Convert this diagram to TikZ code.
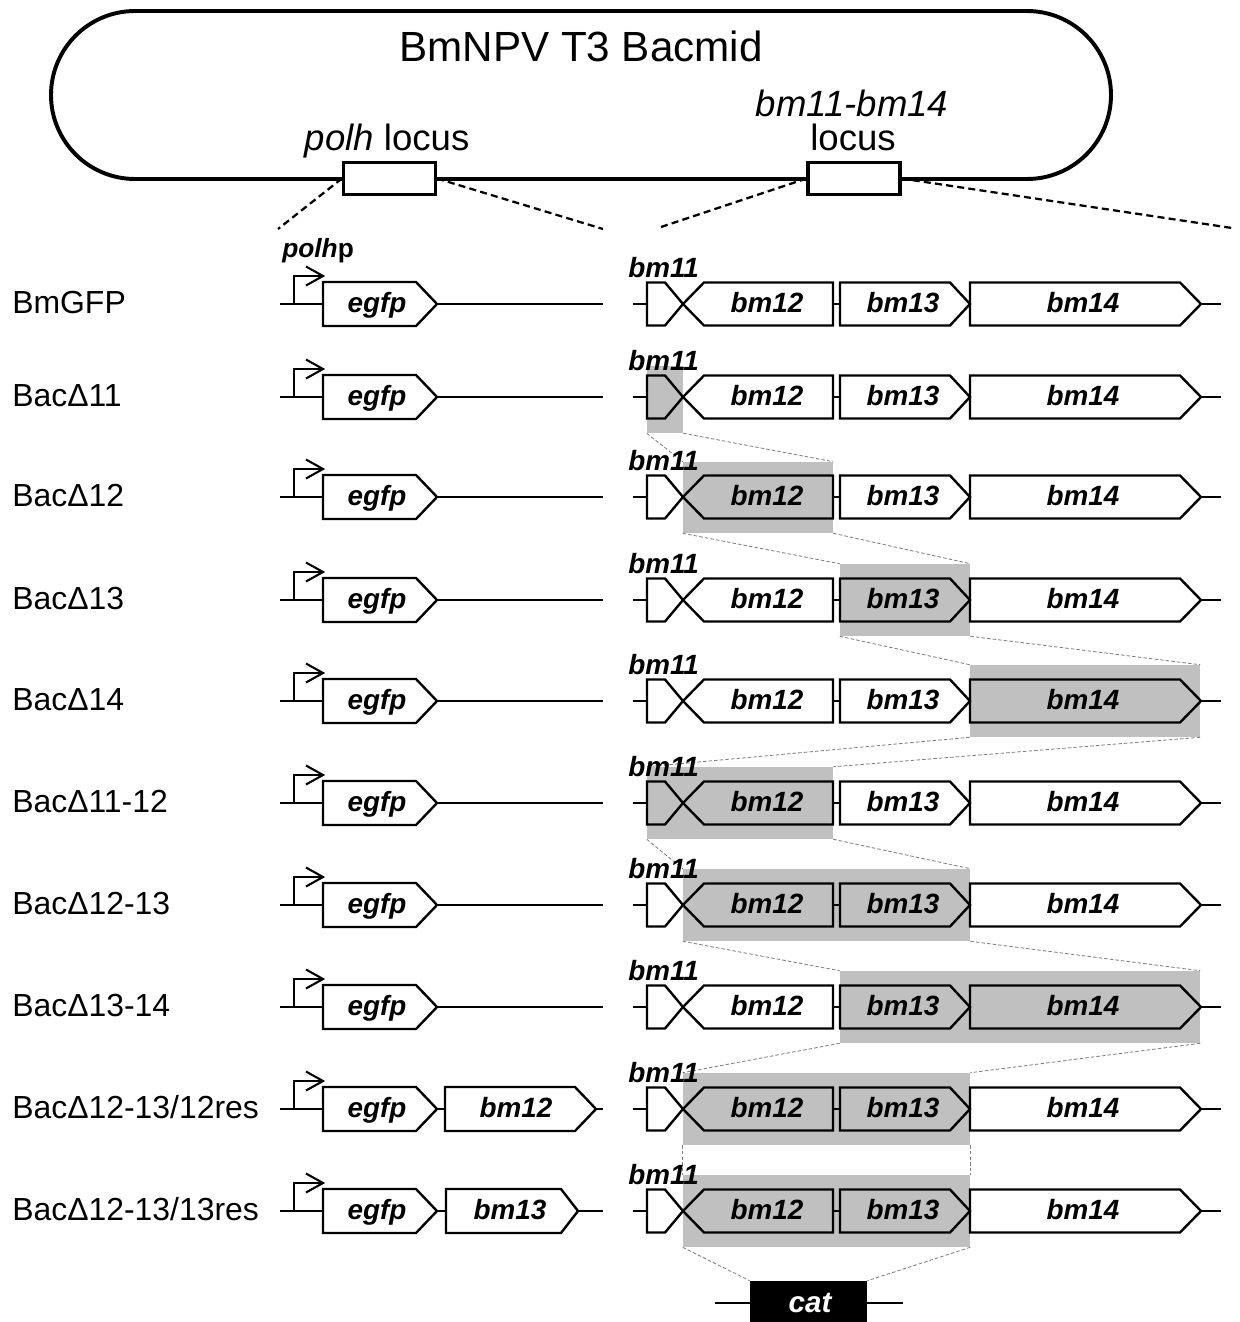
\documentclass[tikz,border=0pt]{standalone}
\usepackage{fontspec}
\setmainfont{Liberation Sans}
\usetikzlibrary{arrows.meta,fit}
\definecolor{shadegray}{RGB}{192,192,192}
\newcommand\rightgenes[2]{%
  \draw[bb] (633,#1) -- (647,#1);
  \draw[gene] (647,#1-21.5) -- (665,#1-21.5) -- (683,#1) -- (665,#1+21.5) -- (647,#1+21.5) -- cycle;
  \draw[gene] (683,#1) -- (704,#1-21.5) -- (833,#1-21.5) -- (833,#1+21.5) -- (704,#1+21.5) -- cycle;
  \draw[bb] (833,#1) -- (840,#1);
  \draw[gene] (840,#1-21.5) -- (950,#1-21.5) -- (970,#1) -- (950,#1+21.5) -- (840,#1+21.5) -- cycle;
  \draw[gene] (970,#1-21.5) -- (1180,#1-21.5) -- (1201,#1) -- (1180,#1+21.5) -- (970,#1+21.5) -- cycle;
  \draw[bb] (1201,#1) -- (1221,#1);
  \node[genelab, anchor=base west] (bmA#2) at (628,#1-27) {bm11};
  \node[genelab, anchor=base] (bmB#2) at (767,#1+8.5) {bm12};
  \node[genelab, anchor=base] (bmC#2) at (903,#1+8.5) {bm13};
  \node[genelab, anchor=base] (bmD#2) at (1083,#1+8.5) {bm14};
}
\newcommand\leftgenes[2]{%
  \draw[bb] (280,#1) -- (323,#1);
  \draw[prom] (294,#1) -- (294,#1-28) -- (323,#1-28);
  \draw[prom] (306,#1-37.5) -- (323,#1-28) -- (306,#1-18.5);
  \draw[gene] (323,#1-22) -- (416,#1-22) -- (437,#1) -- (416,#1+22) -- (323,#1+22) -- cycle;
  \node[genelab, anchor=base] (egfp#2) at (377,#1+8.5) {egfp};
}
\begin{document}
\begin{tikzpicture}[x=0.025cm,y=-0.025cm,
  gene/.style={draw=black,line width=1.7pt,line join=miter},
  bb/.style={line width=1.5pt},
  genelab/.style={font=\fontsize{19.8}{22}\selectfont\bfseries\itshape, inner sep=0pt},
  rowlab/.style={font=\fontsize{22.7}{26}\selectfont, anchor=base west, inner sep=0pt},
  loclab/.style={font=\fontsize{26}{30}\selectfont, anchor=base, inner sep=0pt},
  shadebox/.style={fill=shadegray, inner sep=0pt, draw=none},
  funnel/.style={draw=black!50, line width=0.6pt, dash pattern=on 2.5pt off 1.5pt},
  zoomline/.style={line width=1.6pt, dash pattern=on 5pt off 3pt},
  prom/.style={line width=1.5pt, line join=miter},
  locbox/.style={draw, line width=2.2pt, fill=white, inner sep=0pt, minimum width=2.3cm, minimum height=0.82cm}
]
\useasboundingbox (0,0) rectangle (1239,1322);

% bacmid
\draw[line width=2.8pt, rounded corners=2.1cm] (51,11) rectangle (1111,179);
\node[font=\fontsize{30}{34}\selectfont, anchor=base, inner sep=0pt] (title) at (581,61) {BmNPV T3 Bacmid};
\node[loclab] (polhlab) at (387,150) {\itshape polh\upshape{} locus};
\node[loclab] (bmlocA) at (852,116) {\itshape bm11-bm14};
\node[loclab] (bmlocB) at (853,150) {locus};
\node[locbox] (polhbox) at (389.5,178.5) {};
\node[locbox] (bmbox) at (854,178.5) {};
\coordinate (z1) at (278,229);
\coordinate (z2) at (603,229);
\coordinate (z3) at (658,228);
\coordinate (z4) at (1232,228);
\draw[zoomline] (polhbox.west) -- (z1);
\draw[zoomline] (polhbox.east) -- (z2);
\draw[zoomline] (bmbox.west) -- (z3);
\draw[zoomline] (bmbox.east) -- (z4);

% shaded deletions
\node[shadebox, fit={(647,366) (683,433)}] (s2) {};
\node[shadebox, fit={(683,462) (833,533)}] (s3) {};
\node[shadebox, fit={(840,564) (970,636)}] (s4) {};
\node[shadebox, fit={(970,665) (1200,737)}] (s5) {};
\node[shadebox, fit={(647,767) (833,839)}] (s6) {};
\node[shadebox, fit={(683,869) (970,941)}] (s7) {};
\node[shadebox, fit={(840,971) (1200,1043)}] (s8) {};
\node[shadebox, fit={(683,1073) (970,1145)}] (s9) {};
\node[shadebox, fit={(683,1175) (970,1247)}] (s10) {};
\foreach \a/\b in {s2/s3,s3/s4,s4/s5,s5/s6,s6/s7,s7/s8,s8/s9,s9/s10}{
  \draw[funnel] (\a.south west) -- (\b.north west);
  \draw[funnel] (\a.south east) -- (\b.north east);
}
% cat
\node[fill=black, inner sep=0pt, minimum width=2.925cm, minimum height=1.1cm] (cat) at (808.5,1303) {};
\node[font=\fontsize{21}{24}\selectfont\bfseries\itshape, text=white, anchor=base, inner sep=0pt] (catlab) at (810,1312) {cat};
\coordinate (catL) at (715,1303);
\coordinate (catR) at (903,1303);
\draw[bb] (catL) -- (cat.west);
\draw[bb] (cat.east) -- (catR);
\draw[funnel] (s10.south west) -- (cat.north west);
\draw[funnel] (s10.south east) -- (cat.north east);

% polh promoter label
\node[font=\fontsize{18.7}{20}\selectfont\bfseries, anchor=base west, inner sep=0pt] (polhp) at (282,257) {\itshape polh\upshape p};

% rows
\node[rowlab] (r1) at (12,313) {BmGFP};
\node[rowlab] (r2) at (12,406) {BacΔ11};
\node[rowlab] (r3) at (12,506) {BacΔ12};
\node[rowlab] (r4) at (12,609) {BacΔ13};
\node[rowlab] (r5) at (12,710) {BacΔ14};
\node[rowlab] (r6) at (12,812) {BacΔ11-12};
\node[rowlab] (r7) at (12,914) {BacΔ12-13};
\node[rowlab] (r8) at (12,1016) {BacΔ13-14};
\node[rowlab] (r9) at (12,1118) {BacΔ12-13/12res};
\node[rowlab] (r10) at (12,1220) {BacΔ12-13/13res};

\foreach \c/\r in {304/1,397/2,497/3,600/4,701/5,803/6,905/7,1007/8}{
  \leftgenes{\c}{\r}
  \draw[bb] (437,\c) -- (603,\c);
  \rightgenes{\c}{\r}
}
\leftgenes{1109}{9}
\draw[bb] (437,1109) -- (445,1109);
\draw[gene] (445,1087) -- (575,1087) -- (596,1109) -- (575,1131) -- (445,1131) -- cycle;
\draw[bb] (596,1109) -- (603,1109);
\node[genelab, anchor=base] (lres9) at (516,1117.5) {bm12};
\rightgenes{1109}{9}

\leftgenes{1211}{10}
\draw[bb] (437,1211) -- (446,1211);
\draw[gene] (446,1189) -- (561,1189) -- (578,1211) -- (561,1233) -- (446,1233) -- cycle;
\draw[bb] (578,1211) -- (603,1211);
\node[genelab, anchor=base] (lres10) at (510,1219.5) {bm13};
\rightgenes{1211}{10}
\end{tikzpicture}
\end{document}
